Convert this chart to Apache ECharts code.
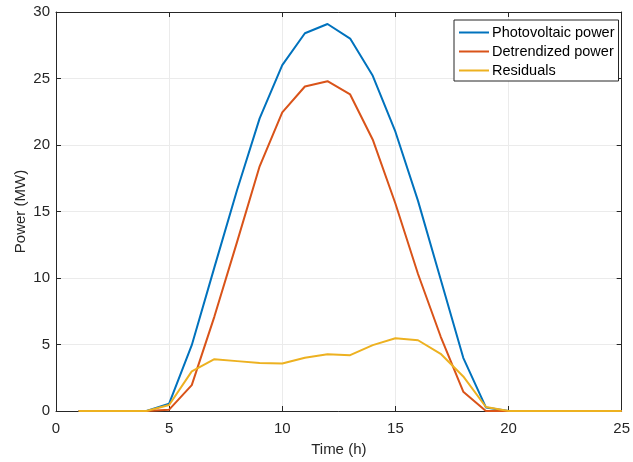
<!DOCTYPE html>
<html>
<head>
<meta charset="utf-8">
<script src="https://cdn.jsdelivr.net/npm/echarts@6/dist/echarts.min.js"></script>
<style>html,body{margin:0;padding:0;background:#fff}#c{width:633px;height:462px}</style>
</head>
<body>
<div id="c"></div>
<script>
var hours = [1,2,3,4,5,6,7,8,9,10,11,12,13,14,15,16,17,18,19,20,21,22,23,24,25];
var pvPower = [0,0,0,0,0.55,4.95,10.8,16.6,22.0,26.0,28.4,29.1,28.0,25.2,21.0,15.8,9.9,4.0,0.27,0,0,0,0,0,0];
var detrended = [0,0,0,0,0.1,1.95,7.1,12.7,18.4,22.45,24.4,24.8,23.8,20.4,15.6,10.3,5.6,1.45,0,0,0,0,0,0,0];
var residuals = [0,0,0,0,0.45,2.98,3.9,3.75,3.6,3.57,4.0,4.27,4.2,4.95,5.47,5.32,4.3,2.6,0.3,0,0,0,0,0,0];
var seriesNames = ['Photovoltaic power','Detrendized power','Residuals'];
var xTitle = 'Time (h)';
var yTitle = 'Power (MW)';

function pairs(ys){ return hours.map(function(h,i){ return [h, ys[i]]; }); }

var axisCol = '#262626';
var font = 'Liberation Sans, Arial, Helvetica, sans-serif';
var chart = echarts.init(document.getElementById('c'), null, {renderer:'canvas'});
var colors = ['#0072BD','#D95319','#EDB120'];
var datas = [pvPower, detrended, residuals];

chart.setOption({
  animation:false,
  grid:{left:56, right:8, top:12, bottom:50, containLabel:false},
  legend:{
    orient:'vertical', left:454, top:20,
    padding:[5,4,3,4], itemGap:4, itemWidth:30, itemHeight:14,
    backgroundColor:'#fff', borderColor:axisCol, borderWidth:1, borderRadius:0,
    itemStyle:{opacity:0},
    textStyle:{fontFamily:font, fontSize:14.5, color:'#000', padding:[0,0,0,-2]},
    data:seriesNames
  },
  xAxis:[{
    type:'value', min:0, max:25, interval:5,
    name:xTitle, nameLocation:'middle', nameGap:31, nameMoveOverlap:false,
    nameTextStyle:{fontFamily:font, fontSize:15, color:axisCol},
    axisLine:{show:true, onZero:false, lineStyle:{color:axisCol, width:1}},
    axisTick:{show:true, inside:true, length:5, lineStyle:{color:axisCol}},
    axisLabel:{fontFamily:font, fontSize:15, color:axisCol, margin:10},
    splitLine:{show:true, lineStyle:{color:'#ebebeb', width:1}}
  },{
    type:'value', min:0, max:25, interval:5, position:'top',
    axisLine:{show:true, onZero:false, lineStyle:{color:axisCol, width:1}},
    axisTick:{show:true, inside:true, length:5, lineStyle:{color:axisCol}},
    axisLabel:{show:false}, splitLine:{show:false}
  }],
  yAxis:[{
    type:'value', min:0, max:30, interval:5,
    name:yTitle, nameLocation:'middle', nameGap:28, nameMoveOverlap:false,
    nameTextStyle:{fontFamily:font, fontSize:15, color:axisCol},
    axisLine:{show:true, onZero:false, lineStyle:{color:axisCol, width:1}},
    axisTick:{show:true, inside:true, length:5, lineStyle:{color:axisCol}},
    axisLabel:{fontFamily:font, fontSize:15, color:axisCol, margin:6},
    splitLine:{show:true, lineStyle:{color:'#ebebeb', width:1}}
  },{
    type:'value', min:0, max:30, interval:5, position:'right',
    axisLine:{show:true, onZero:false, lineStyle:{color:axisCol, width:1}},
    axisTick:{show:true, inside:true, length:5, lineStyle:{color:axisCol}},
    axisLabel:{show:false}, splitLine:{show:false}
  }],
  series: seriesNames.map(function(n,i){
    return {
      name:n, type:'line', data:pairs(datas[i]),
      xAxisIndex:0, yAxisIndex:0,
      symbol:'none', showSymbol:false,
      color:colors[i],
      lineStyle:{color:colors[i], width:2},
      z:2+i
    };
  })
});
</script>
</body>
</html>
